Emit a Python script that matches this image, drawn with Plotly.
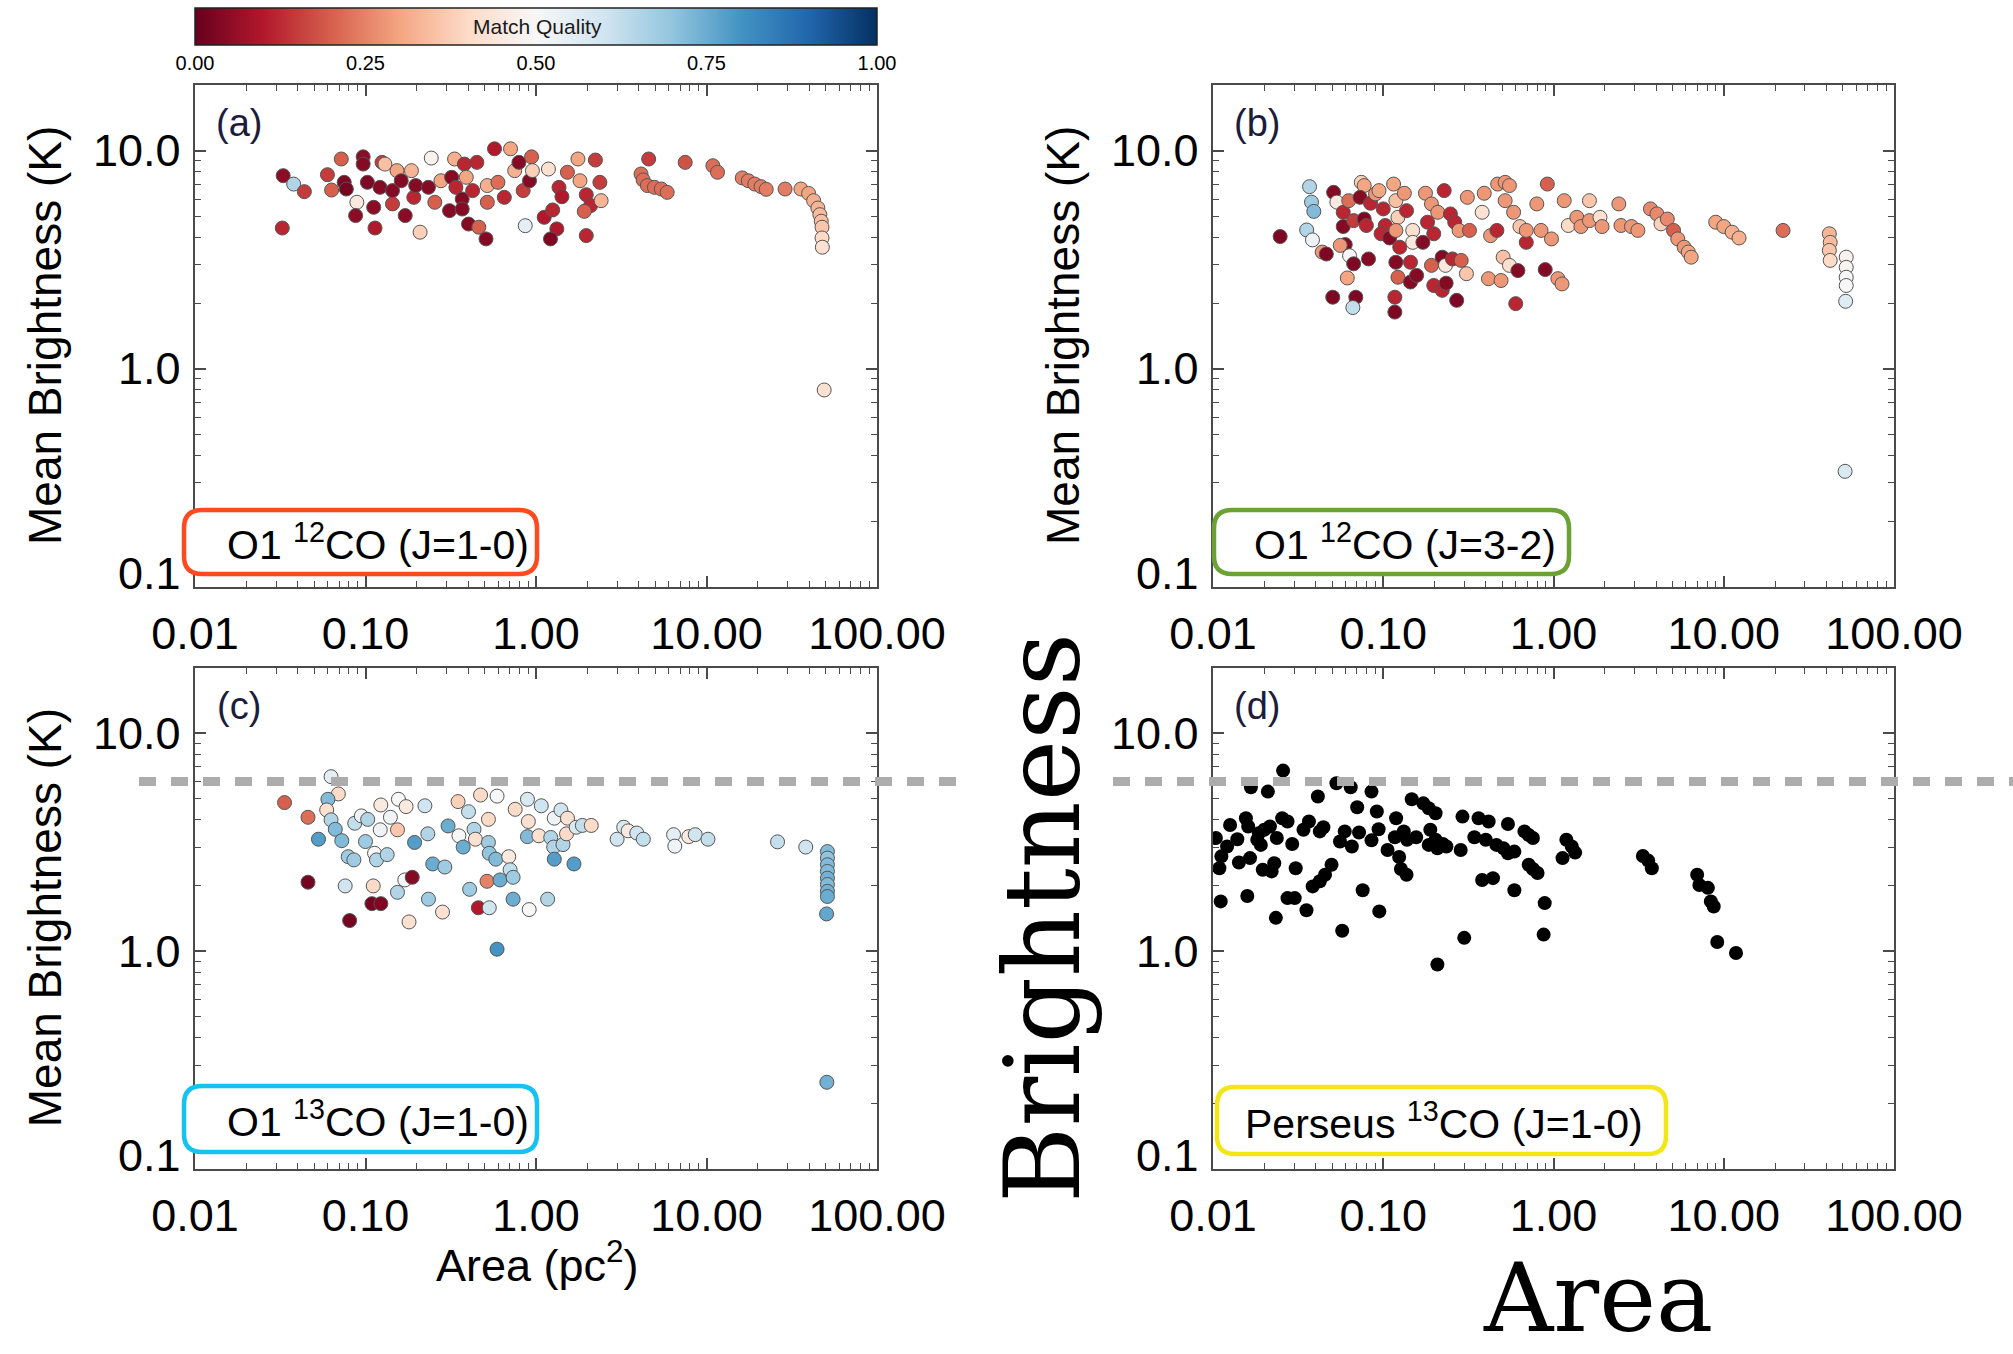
import math
import plotly.graph_objects as go

W, H = 2013, 1354

# ---------------- data ----------------
# (a) O1 12CO (J=1-0): area [pc^2], mean brightness [K], match quality
area_a = [0.0329, 0.0379, 0.0438, 0.0325, 0.0598, 0.0721, 0.0633, 0.075, 0.0772, 0.0969,
          0.0969, 0.1026, 0.1216, 0.089, 0.0875, 0.1117, 0.1137, 0.125, 0.130, 0.144,
          0.144, 0.153, 0.162, 0.171, 0.186, 0.192, 0.197, 0.209, 0.234, 0.243,
          0.255, 0.277, 0.311, 0.320, 0.333, 0.339, 0.369, 0.380, 0.369, 0.390,
          0.402, 0.425, 0.450, 0.462, 0.509, 0.518, 0.518, 0.571, 0.598, 0.652,
          0.709, 0.750, 0.794, 0.841, 0.865, 0.916, 0.942, 0.953, 1.117, 1.183,
          1.253, 1.325, 1.216, 1.364, 1.419, 1.528, 1.762, 1.811, 1.972, 2.09,
          2.23, 2.37, 2.41, 1.972, 1.92, 4.58, 4.13, 4.25, 4.50, 4.95,
          5.43, 5.88, 7.50, 10.9, 11.6, 16.2, 17.6, 19.2, 20.9, 22.4,
          28.9, 35.8, 39.7, 42.5, 45.0, 46.2, 47.1, 47.6, 47.6, 47.8, 49.0]
bright_a = [7.68, 7.03, 6.49, 4.42, 7.76, 9.16, 6.60, 7.16, 6.67, 9.37,
            8.68, 7.16, 6.79, 5.80, 5.04, 5.50, 4.42, 8.84, 8.68, 5.70,
            6.56, 8.10, 7.28, 5.04, 8.10, 6.11, 6.92, 4.23, 6.79, 9.25,
            5.80, 7.28, 5.31, 7.55, 9.16, 6.79, 6.01, 8.68, 5.40, 7.55,
            4.61, 6.56, 8.84, 4.46, 3.94, 5.80, 6.92, 10.2, 7.16, 6.11,
            10.2, 8.10, 8.84, 6.56, 4.53, 7.28, 9.37, 8.10, 4.95, 8.24,
            5.35, 4.38, 3.94, 6.79, 6.15, 7.96, 9.16, 7.28, 6.28, 5.60,
            9.06, 7.16, 5.90, 4.08, 5.27, 9.16, 7.82, 7.34, 6.92, 6.79,
            6.67, 6.44, 8.84, 8.53, 7.96, 7.50, 7.28, 7.03, 6.84, 6.65,
            6.67, 6.67, 6.37, 5.90, 5.46, 5.09, 4.75, 4.46, 3.98, 3.61, 0.80]
quality_a = [0.05, 0.65, 0.15, 0.12, 0.15, 0.20, 0.20, 0.03, 0.02, 0.05,
             0.04, 0.03, 0.04, 0.45, 0.05, 0.05, 0.10, 0.15, 0.35, 0.15,
             0.04, 0.30, 0.04, 0.05, 0.33, 0.12, 0.04, 0.38, 0.04, 0.48,
             0.20, 0.30, 0.04, 0.04, 0.32, 0.12, 0.04, 0.12, 0.04, 0.30,
             0.04, 0.12, 0.12, 0.20, 0.04, 0.20, 0.32, 0.10, 0.22, 0.12,
             0.30, 0.32, 0.04, 0.15, 0.55, 0.04, 0.20, 0.38, 0.10, 0.42,
             0.12, 0.10, 0.03, 0.12, 0.10, 0.20, 0.30, 0.30, 0.12, 0.12,
             0.15, 0.15, 0.33, 0.12, 0.20, 0.15, 0.22, 0.22, 0.22, 0.22,
             0.22, 0.22, 0.18, 0.22, 0.22, 0.24, 0.24, 0.24, 0.24, 0.24,
             0.24, 0.30, 0.30, 0.32, 0.33, 0.34, 0.35, 0.36, 0.40, 0.42, 0.42]

# (b) O1 12CO (J=3-2)
area_b = [0.0248, 0.0369, 0.0379, 0.0391, 0.0355, 0.0384, 0.0438, 0.0463, 0.0511, 0.0534,
          0.0582, 0.0627, 0.0582, 0.0598, 0.0559, 0.067, 0.0634, 0.067, 0.0615, 0.0505,
          0.069, 0.0663, 0.0743, 0.0773, 0.0731, 0.0842, 0.0773, 0.0796, 0.0819, 0.0901,
          0.0944, 0.100, 0.1028, 0.0971, 0.109, 0.115, 0.1186, 0.122, 0.1186, 0.125,
          0.1186, 0.137, 0.133, 0.1445, 0.122, 0.1445, 0.157, 0.117, 0.117, 0.149,
          0.149, 0.177, 0.192, 0.182, 0.171, 0.198, 0.228, 0.209, 0.192, 0.222,
          0.232, 0.198, 0.222, 0.234, 0.270, 0.255, 0.287, 0.248, 0.263, 0.279,
          0.312, 0.308, 0.321, 0.381, 0.392, 0.415, 0.427, 0.465, 0.470, 0.506,
          0.492, 0.520, 0.551, 0.520, 0.551, 0.583, 0.618, 0.600, 0.635, 0.692,
          0.692, 0.798, 0.845, 0.894, 0.920, 0.973, 1.061, 1.122, 1.156, 1.222,
          1.371, 1.449, 1.626, 1.626, 1.875, 1.929, 2.42, 2.49, 2.87, 3.13,
          3.71, 4.05, 4.28, 4.66, 5.07, 5.37, 5.85, 6.19, 6.44, 8.97,
          10.0, 11.2, 12.3, 22.3, 41.7, 42.2, 41.7, 42.2, 52.4, 52.4,
          52.4, 52.4, 52.0, 51.6]
bright_b = [4.04, 6.84, 5.81, 5.27, 4.33, 3.90, 3.43, 3.36, 6.44, 5.81,
            5.22, 5.90, 4.49, 3.71, 3.68, 4.78, 3.30, 3.03, 2.61, 2.13,
            2.13, 1.91, 7.16, 6.92, 6.11, 5.74, 4.86, 4.54, 3.19, 6.34,
            6.56, 5.41, 4.54, 4.16, 3.98, 7.03, 5.90, 4.95, 4.31, 3.61,
            3.08, 5.31, 6.38, 3.08, 2.63, 2.50, 2.68, 2.13, 1.82, 4.31,
            3.80, 6.38, 5.70, 4.70, 3.80, 4.16, 6.56, 5.22, 2.98, 3.25,
            2.98, 2.41, 2.29, 2.47, 2.06, 3.19, 3.14, 5.13, 4.70, 4.31,
            6.11, 2.73, 4.31, 5.22, 6.38, 2.59, 4.08, 4.31, 7.03, 3.25,
            2.54, 7.16, 6.92, 5.90, 2.98, 5.22, 2.82, 1.99, 4.49, 3.80,
            4.31, 5.70, 4.31, 2.85, 7.03, 3.94, 2.59, 2.45, 5.90, 4.54,
            4.95, 4.49, 5.90, 4.78, 4.95, 4.49, 5.70, 4.54, 4.49, 4.31,
            5.41, 5.13, 4.62, 4.86, 4.31, 3.94, 3.61, 3.43, 3.25, 4.70,
            4.49, 4.23, 3.98, 4.31, 4.16, 3.80, 3.49, 3.14, 3.25, 2.92,
            2.63, 2.41, 2.04, 0.339]
quality_b = [0.03, 0.65, 0.68, 0.72, 0.65, 0.52, 0.28, 0.03, 0.04, 0.45,
             0.12, 0.22, 0.04, 0.04, 0.28, 0.15, 0.50, 0.03, 0.30, 0.03,
             0.03, 0.62, 0.38, 0.30, 0.04, 0.12, 0.03, 0.12, 0.04, 0.28,
             0.30, 0.12, 0.12, 0.12, 0.04, 0.30, 0.35, 0.38, 0.28, 0.12,
             0.04, 0.12, 0.28, 0.12, 0.20, 0.04, 0.04, 0.12, 0.03, 0.42,
             0.45, 0.28, 0.28, 0.12, 0.04, 0.12, 0.12, 0.28, 0.20, 0.04,
             0.45, 0.12, 0.12, 0.04, 0.03, 0.12, 0.20, 0.12, 0.12, 0.28,
             0.28, 0.36, 0.20, 0.42, 0.28, 0.28, 0.28, 0.12, 0.28, 0.35,
             0.28, 0.28, 0.28, 0.28, 0.42, 0.28, 0.04, 0.12, 0.36, 0.12,
             0.28, 0.28, 0.28, 0.04, 0.20, 0.28, 0.28, 0.28, 0.28, 0.40,
             0.28, 0.28, 0.36, 0.28, 0.42, 0.28, 0.28, 0.28, 0.28, 0.28,
             0.26, 0.26, 0.38, 0.26, 0.20, 0.28, 0.28, 0.30, 0.30, 0.30,
             0.30, 0.32, 0.32, 0.22, 0.33, 0.34, 0.36, 0.40, 0.48, 0.49,
             0.50, 0.50, 0.56, 0.58]

# (c) O1 13CO (J=1-0)
area_c = [0.0335, 0.046, 0.053, 0.046, 0.0628, 0.0693, 0.0602, 0.0592, 0.0628, 0.0665,
          0.0726, 0.0792, 0.0855, 0.076, 0.0807, 0.0865, 0.0945, 0.103, 0.100, 0.113,
          0.116, 0.111, 0.109, 0.123, 0.123, 0.122, 0.134, 0.140, 0.154, 0.156,
          0.173, 0.154, 0.170, 0.188, 0.194, 0.180, 0.223, 0.232, 0.234, 0.248,
          0.283, 0.292, 0.305, 0.349, 0.353, 0.374, 0.402, 0.408, 0.433, 0.441,
          0.473, 0.459, 0.532, 0.516, 0.526, 0.526, 0.532, 0.591, 0.581, 0.591,
          0.615, 0.692, 0.705, 0.734, 0.734, 0.755, 0.891, 0.902, 0.891, 0.912,
          1.04, 1.074, 1.17, 1.22, 1.27, 1.28, 1.28, 1.40, 1.44, 1.53,
          1.51, 1.67, 1.72, 1.87, 2.11, 2.99, 3.27, 3.47, 3.90, 4.26,
          6.41, 6.52, 7.87, 8.59, 10.2, 26.1, 38.2, 51.2, 51.2, 51.2,
          51.2, 51.2, 51.2, 51.2, 51.2, 50.6, 50.8]
bright_c = [4.80, 4.11, 3.26, 2.07, 6.31, 5.26, 4.97, 4.44, 4.00, 3.62,
            3.21, 2.71, 2.62, 1.99, 1.38, 3.86, 4.17, 4.02, 3.18, 2.81,
            2.62, 1.99, 1.65, 1.65, 4.68, 3.60, 2.77, 4.11, 3.60, 4.97,
            4.60, 1.86, 2.12, 2.18, 3.15, 1.36, 4.64, 3.45, 1.73, 2.51,
            1.51, 2.43, 3.75, 4.85, 3.38, 3.00, 4.36, 1.92, 3.62, 3.26,
            5.20, 1.58, 1.58, 2.09, 4.02, 3.15, 2.81, 5.14, 2.64, 1.02,
            2.12, 2.71, 2.36, 2.18, 1.73, 4.47, 4.97, 3.93, 3.35, 1.55,
            3.38, 4.64, 1.73, 3.32, 3.00, 2.64, 4.07, 4.44, 3.08, 4.07,
            3.45, 2.51, 3.70, 3.77, 3.77, 3.26, 3.70, 3.56, 3.48, 3.26,
            3.42, 3.03, 3.35, 3.42, 3.26, 3.17, 3.00, 2.86, 2.67, 2.49,
            2.32, 2.16, 2.02, 1.88, 1.78, 1.48, 0.25]
quality_c = [0.20, 0.22, 0.78, 0.02, 0.55, 0.40, 0.72, 0.42, 0.65, 0.72,
             0.72, 0.68, 0.68, 0.60, 0.02, 0.62, 0.52, 0.65, 0.68, 0.50,
             0.65, 0.40, 0.02, 0.03, 0.45, 0.52, 0.65, 0.52, 0.36, 0.50,
             0.45, 0.65, 0.50, 0.04, 0.78, 0.42, 0.60, 0.65, 0.68, 0.75,
             0.42, 0.68, 0.75, 0.38, 0.50, 0.75, 0.62, 0.68, 0.65, 0.42,
             0.40, 0.10, 0.60, 0.25, 0.40, 0.68, 0.70, 0.50, 0.72, 0.80,
             0.75, 0.45, 0.62, 0.68, 0.75, 0.40, 0.58, 0.42, 0.72, 0.50,
             0.42, 0.60, 0.65, 0.65, 0.65, 0.78, 0.52, 0.60, 0.65, 0.42,
             0.40, 0.78, 0.58, 0.62, 0.40, 0.60, 0.58, 0.45, 0.60, 0.62,
             0.55, 0.52, 0.45, 0.60, 0.62, 0.62, 0.60, 0.72, 0.70, 0.72,
             0.72, 0.74, 0.72, 0.74, 0.75, 0.76, 0.74]

# (d) Perseus 13CO (J=1-0)
area_d = [0.0104, 0.0112, 0.0109, 0.0111, 0.0121, 0.0126, 0.0139, 0.0142, 0.0156, 0.0161,
          0.0165, 0.0159, 0.0167, 0.0182, 0.0196, 0.0186, 0.0191, 0.0200, 0.0210, 0.0216,
          0.0221, 0.0229, 0.0234, 0.0237, 0.0258, 0.0255, 0.0274, 0.0292, 0.0274, 0.0302,
          0.0306, 0.0340, 0.0354, 0.0366, 0.0385, 0.0413, 0.0424, 0.0445, 0.0424, 0.0455,
          0.0497, 0.0531, 0.0557, 0.0594, 0.0574, 0.0644, 0.0654, 0.0703, 0.0721, 0.0757,
          0.0853, 0.0853, 0.0917, 0.0939, 0.0948, 0.106, 0.119, 0.117, 0.124, 0.127,
          0.137, 0.132, 0.138, 0.147, 0.156, 0.172, 0.185, 0.203, 0.189, 0.185,
          0.203, 0.224, 0.208, 0.235, 0.208, 0.285, 0.292, 0.299, 0.343, 0.363,
          0.381, 0.400, 0.416, 0.441, 0.462, 0.509, 0.540, 0.540, 0.589, 0.589,
          0.675, 0.715, 0.757, 0.715, 0.757, 0.806, 0.888, 0.875, 1.19, 1.28,
          1.34, 1.13, 3.35, 3.60, 3.78, 6.98, 7.19, 8.07, 8.40, 8.73,
          9.16, 11.8]
bright_d = [3.30, 2.72, 2.40, 1.69, 3.02, 3.79, 3.26, 2.55, 4.07, 3.73,
            2.67, 1.79, 5.64, 3.24, 2.36, 3.47, 3.07, 3.60, 5.39, 3.73,
            2.32, 2.53, 1.42, 3.30, 6.73, 4.07, 3.93, 3.10, 1.75, 1.75,
            2.40, 3.60, 1.54, 3.93, 1.98, 5.12, 3.54, 3.70, 2.09, 2.24,
            2.49, 5.89, 3.18, 3.54, 1.24, 5.64, 3.02, 4.57, 3.50, 1.90,
            5.39, 3.22, 4.37, 3.62, 1.52, 2.91, 4.07, 3.33, 2.70, 2.38,
            2.24, 3.54, 3.24, 4.97, 3.33, 4.76, 4.52, 4.29, 3.60, 3.07,
            3.24, 3.10, 2.96, 3.02, 0.867, 2.91, 4.14, 1.15, 3.33, 4.07,
            2.12, 3.24, 3.93, 2.16, 3.07, 2.96, 3.83, 2.81, 2.86, 1.90,
            3.54, 3.41, 3.30, 2.49, 2.38, 2.28, 1.66, 1.19, 3.24, 3.02,
            2.83, 2.67, 2.73, 2.60, 2.40, 2.24, 2.01, 1.95, 1.69, 1.60,
            1.10, 0.98]

# brightness threshold drawn across the 13CO panels [K]
threshold_K = 6.0

x_ticks = [0.01, 0.1, 1, 10, 100]
x_ticktext = ["0.01", "0.10", "1.00", "10.00", "100.00"]
y_ticks = [0.1, 1, 10]
y_ticktext = ["0.1", "1.0", "10.0"]
cb_ticks = [0, 0.25, 0.5, 0.75, 1.0]
cb_ticktext = ["0.00", "0.25", "0.50", "0.75", "1.00"]

panel_letters = ["(a)", "(b)", "(c)", "(d)"]
panel_labels = ["O1 <sup>12</sup>CO (J=1-0)", "O1 <sup>12</sup>CO (J=3-2)",
                "O1 <sup>13</sup>CO (J=1-0)", "Perseus <sup>13</sup>CO (J=1-0)"]
panel_box_colors = ["#ff4a1f", "#6ba234", "#14c3f2", "#f2e61a"]

# ColorBrewer RdBu (red = poor match, blue = good match)
RDBU = [[0.0, "rgb(103,0,31)"], [0.1, "rgb(178,24,43)"], [0.2, "rgb(214,96,77)"],
        [0.3, "rgb(244,165,130)"], [0.4, "rgb(253,219,199)"], [0.5, "rgb(247,247,247)"],
        [0.6, "rgb(209,229,240)"], [0.7, "rgb(146,197,222)"], [0.8, "rgb(67,147,195)"],
        [0.9, "rgb(33,102,172)"], [1.0, "rgb(5,48,97)"]]

# ---------------- layout geometry (pixels) ----------------
col_x = [(195, 877), (1213, 1894)]
row_y = [(85, 587), (667.5, 1169)]
cbar_px = (195, 877, 8, 45)  # left, right, top, bottom

FONT = "Liberation Sans, Arial, Helvetica, sans-serif"
FRAME = "#4a4a4a"

fig = go.Figure()

colored = [(area_a, bright_a, quality_a), (area_b, bright_b, quality_b), (area_c, bright_c, quality_c)]
for i, (a, b, q) in enumerate(colored):
    suffix = "" if i == 0 else str(i + 1)
    fig.add_trace(go.Scatter(
        x=a, y=b, mode="markers", xaxis="x" + suffix, yaxis="y" + suffix,
        marker=dict(size=14, color=q, coloraxis="coloraxis",
                    line=dict(color="#555555", width=1)),
        showlegend=False, hoverinfo="x+y"))

fig.add_trace(go.Scatter(
    x=area_d, y=bright_d, mode="markers", xaxis="x4", yaxis="y4",
    marker=dict(size=14, color="black", line=dict(width=0)),
    showlegend=False))

minor_x = [m * 10.0 ** e for e in range(-2, 2) for m in range(2, 10)]
minor_y = [m * 10.0 ** e for e in range(-1, 2) for m in range(2, 10) if m * 10.0 ** e <= 20]

axis_style = dict(type="log", showgrid=False, zeroline=False, showline=True,
                  linecolor=FRAME, linewidth=2, mirror="allticks", automargin=False,
                  ticks="inside", ticklen=11, tickwidth=1.5, tickcolor=FRAME,
                  tickfont=dict(family=FONT, size=45, color="black"))

layout = dict(width=W, height=H,
              margin=dict(l=0, r=0, t=0, b=0, pad=0, autoexpand=False),
              paper_bgcolor="white", plot_bgcolor="white",
              font=dict(family=FONT, color="black"))

shapes = []
annotations = []

for k in range(4):
    r, c = divmod(k, 2)
    suffix = "" if k == 0 else str(k + 1)
    x0, x1 = col_x[c]
    ytop, ybot = row_y[r]
    layout["xaxis" + suffix] = dict(
        axis_style, domain=[x0 / W, x1 / W], range=[-2, 2], anchor="y" + suffix,
        tickvals=x_ticks, ticktext=x_ticktext, ticklabelstandoff=6,
        minor=dict(ticks="inside", ticklen=6, tickwidth=1.2, tickcolor=FRAME, tickvals=minor_x))
    layout["yaxis" + suffix] = dict(
        axis_style, domain=[1 - ybot / H, 1 - ytop / H], range=[-1, 1.30103], anchor="x" + suffix,
        tickvals=y_ticks, showticklabels=False,
        minor=dict(ticks="inside", ticklen=6, tickwidth=1.2, tickcolor=FRAME, tickvals=minor_y))
    # y tick labels placed on the axis scale; the lowest one is lifted clear of the x labels
    for v, t in zip(y_ticks, y_ticktext):
        annotations.append(dict(text=t, xref="paper", yref="y" + suffix,
                                x=(x0 - 12) / W, y=math.log10(v),
                                xanchor="right", yanchor="middle", showarrow=False,
                                yshift=14 if v == y_ticks[0] else 0,
                                font=dict(family=FONT, size=45, color="black")))

cl, cr, ct, cb = cbar_px
layout["coloraxis"] = dict(
    colorscale=RDBU, cmin=0, cmax=1,
    colorbar=dict(orientation="h", x=(cl + cr) / 2 / W, xanchor="center", y=1 - ct / H, yanchor="top",
                  len=(cr - cl) / W, lenmode="fraction", thickness=cb - ct, thicknessmode="pixels",
                  outlinewidth=1.5, outlinecolor="#222", xpad=0, ypad=0,
                  tickmode="array", tickvals=cb_ticks, ticktext=cb_ticktext,
                  ticks="", tickfont=dict(family=FONT, size=20, color="black")))

fig.update_layout(**layout)


def rounded_box(x0, y0, x1, y1, r):
    def p(x, y):
        return f"{x / W:.5f},{1 - y / H:.5f}"
    return (f"M {p(x0 + r, y0)} L {p(x1 - r, y0)} Q {p(x1, y0)} {p(x1, y0 + r)} "
            f"L {p(x1, y1 - r)} Q {p(x1, y1)} {p(x1 - r, y1)} "
            f"L {p(x0 + r, y1)} Q {p(x0, y1)} {p(x0, y1 - r)} "
            f"L {p(x0, y0 + r)} Q {p(x0, y0)} {p(x0 + r, y0)} Z")


boxes = [(184, 510, 537, 574), (1214, 510, 1569, 574),
         (184, 1086, 537, 1152), (1217, 1087, 1666, 1154)]
text_left = [225, 1252, 225, 1243]
for k in range(4):
    bx0, by0, bx1, by1 = boxes[k]
    shapes.append(dict(type="path", path=rounded_box(bx0, by0, bx1, by1, 18),
                       xref="paper", yref="paper",
                       line=dict(color=panel_box_colors[k], width=4.5), fillcolor="white"))
    annotations.append(dict(text=panel_labels[k], xref="paper", yref="paper",
                            x=text_left[k] / W, y=1 - (by0 + by1) / 2 / H,
                            xanchor="left", yanchor="middle", showarrow=False,
                            font=dict(family=FONT, size=41, color="black")))
    r, c = divmod(k, 2)
    annotations.append(dict(text=panel_letters[k], xref="paper", yref="paper",
                            x=(col_x[c][0] + 44) / W, y=1 - (row_y[r][0] + 38) / H,
                            xanchor="center", yanchor="middle", showarrow=False,
                            font=dict(family=FONT, size=38, color="#1c1c3c")))
    if k != 3:
        annotations.append(dict(text="Mean Brightness (K)", xref="paper", yref="paper",
                                x=(col_x[c][0] - 150) / W,
                                y=1 - (row_y[r][0] + row_y[r][1]) / 2 / H,
                                textangle=-90, xanchor="center", yanchor="middle", showarrow=False,
                                font=dict(family=FONT, size=46, color="black")))

annotations.append(dict(text="Area (pc<sup>2</sup>)", xref="paper", yref="paper",
                        x=537 / W, y=1 - 1262 / H, xanchor="center", yanchor="middle",
                        showarrow=False, font=dict(family=FONT, size=45, color="black")))
annotations.append(dict(text="Match Quality", xref="paper", yref="paper",
                        x=537 / W, y=1 - 27 / H, xanchor="center", yanchor="middle",
                        showarrow=False, font=dict(family=FONT, size=21, color="#1a1a1a")))
annotations.append(dict(text="Brightness", xref="paper", yref="paper",
                        x=1043 / W, y=1 - 918 / H, textangle=-90,
                        xanchor="center", yanchor="middle", showarrow=False,
                        font=dict(family="DejaVu Serif, serif", size=104, color="black")))
annotations.append(dict(text="Area", xref="paper", yref="paper",
                        x=1598 / W, y=1 - 1298 / H, xanchor="center", yanchor="middle",
                        showarrow=False,
                        font=dict(family="DejaVu Serif, serif", size=96, color="black")))

# colour-bar tick marks on both long edges, every 1/8
for j in range(1, 8):
    fx = (cl + (cr - cl) * j / 8) / W
    tl = 9 if j % 2 == 0 else 6
    for y_edge, y_in in ((ct, ct + tl), (cb, cb - tl)):
        shapes.append(dict(type="line", xref="paper", yref="paper", x0=fx, x1=fx,
                           y0=1 - y_edge / H, y1=1 - y_in / H,
                           line=dict(color="#222", width=1.3)))

# threshold line across the lower row, broken around the vertical label
dash_line = dict(color="#acacac", width=9, dash="17px,15px")
shapes.append(dict(type="line", xref="paper", yref="y3", x0=139 / W, x1=956 / W,
                   y0=threshold_K, y1=threshold_K, line=dash_line, layer="above"))
shapes.append(dict(type="line", xref="paper", yref="y4", x0=1113 / W, x1=1.0,
                   y0=threshold_K, y1=threshold_K, line=dash_line, layer="above"))

fig.update_layout(shapes=shapes, annotations=annotations)

fig.write_html("out.html")
